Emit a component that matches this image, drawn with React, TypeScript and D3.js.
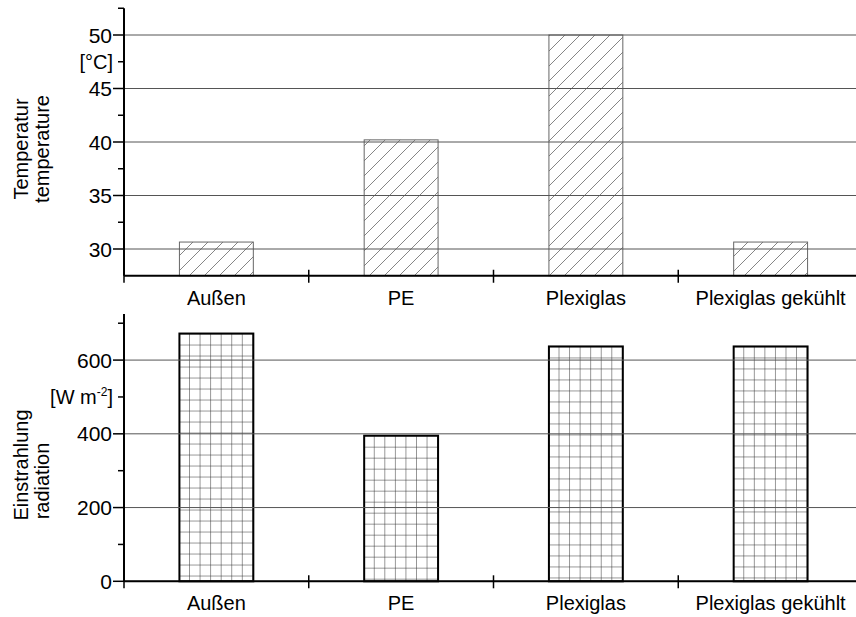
import React, { useRef, useEffect } from "react";
import * as d3 from "d3";

const categories = ["Außen", "PE", "Plexiglas", "Plexiglas gekühlt"];
const temperature = [30.65, 40.2, 50.0, 30.65];
const radiation = [672, 395, 637, 637];
const tempTicks = [30, 35, 40, 45, 50];
const tempMinor = [27.5, 32.5, 37.5, 42.5, 47.5, 52.5];
const radTicks = [0, 200, 400, 600];
const radMinor = [100, 300, 500, 700];

const FONT = "'Liberation Sans', Arial, sans-serif";

const App = () => {
  const svgRef = useRef<SVGSVGElement>(null);

  const width = 856;
  const height = 617;
  const left = 124;
  const right = 863;
  const fs = 20;
  const tfs = 21;

  useEffect(() => {
    const svg = d3.select(svgRef.current);
    svg.selectAll("*").remove();
    svg.attr("width", width).attr("height", height);

    const x = d3.scaleBand<string>().domain(categories).range([left, right]).padding(0);
    const bw = x.bandwidth() * 0.4;
    const barX = (c: string) => (x(c) as number) + x.bandwidth() * 0.3;
    const boundaries = [...categories.map(c => x(c) as number), right];

    const defs = svg.append("defs");

    // diagonal hatch for temperature
    const hatch = defs.append("pattern")
      .attr("id", "hatch")
      .attr("patternUnits", "userSpaceOnUse")
      .attr("width", 15)
      .attr("height", 15);
    hatch.append("path")
      .attr("d", "M0,15 L15,0 M-4,4 L4,-4 M11,19 L19,11")
      .attr("stroke", "#777")
      .attr("stroke-width", 0.9)
      .attr("fill", "none");

    const panel = (
      values: number[],
      domain: [number, number],
      range: [number, number],
      major: number[],
      minor: number[],
      kind: "hatch" | "grid",
      unit: string,
      unitValue: number,
      title: string[],
      titleCenter: number[]
    ) => {
      const y = d3.scaleLinear().domain(domain).range(range);
      const g = svg.append("g");
      const bottom = range[0];

      // bars
      values.forEach((v, i) => {
        const c = categories[i];
        const bx = barX(c);
        const top = y(v);
        let fill = "url(#hatch)";
        if (kind === "grid") {
          const id = `grid${i}`;
          const p = defs.append("pattern")
            .attr("id", id)
            .attr("patternUnits", "userSpaceOnUse")
            .attr("x", bx)
            .attr("y", top + 1)
            .attr("width", bw / 7)
            .attr("height", 11);
          p.append("path")
            .attr("d", `M${bw / 7},0 V11 M0,11 H${bw / 7}`)
            .attr("stroke", "#333")
            .attr("stroke-width", 1)
            .attr("fill", "none");
          fill = `url(#${id})`;
        }
        g.append("rect")
          .attr("x", bx)
          .attr("y", top)
          .attr("width", bw)
          .attr("height", bottom - top)
          .attr("fill", "white");
        g.append("rect")
          .attr("x", bx)
          .attr("y", top)
          .attr("width", bw)
          .attr("height", bottom - top)
          .attr("fill", fill)
          .attr("stroke", kind === "grid" ? "#000" : "#666")
          .attr("stroke-width", kind === "grid" ? 2 : 1);
      });

      // grid lines
      g.selectAll(".gl")
        .data(major)
        .join("line")
        .attr("x1", left)
        .attr("x2", right)
        .attr("y1", d => y(d))
        .attr("y2", d => y(d))
        .attr("stroke", "#555")
        .attr("stroke-width", 1);

      // y axis
      g.append("line")
        .attr("x1", left).attr("x2", left)
        .attr("y1", y(domain[1])).attr("y2", bottom)
        .attr("stroke", "#000").attr("stroke-width", 2);
      g.selectAll(".maj")
        .data(major)
        .join("line")
        .attr("x1", left - 11).attr("x2", left)
        .attr("y1", d => y(d)).attr("y2", d => y(d))
        .attr("stroke", "#000").attr("stroke-width", 1.5);
      g.selectAll(".min")
        .data(minor.filter(m => m > domain[0]))
        .join("line")
        .attr("x1", left - 6).attr("x2", left)
        .attr("y1", d => y(d)).attr("y2", d => y(d))
        .attr("stroke", "#000").attr("stroke-width", 1.5);
      g.selectAll(".lbl")
        .data(major)
        .join("text")
        .attr("x", left - 12)
        .attr("y", d => y(d) + tfs * 0.36)
        .attr("text-anchor", "end")
        .attr("font-family", FONT)
        .attr("font-size", tfs)
        .text(d => d);

      // unit label
      const ut = g.append("text")
        .attr("x", left - 11)
        .attr("y", y(unitValue) + fs * 0.36)
        .attr("text-anchor", "end")
        .attr("font-family", FONT)
        .attr("font-size", fs);
      if (unit === "W") {
        ut.append("tspan").text("[W m");
        ut.append("tspan").attr("font-size", fs * 0.6).attr("dy", -fs * 0.4).text("-2");
        ut.append("tspan").attr("dy", fs * 0.4).text("]");
      } else {
        ut.text(unit);
      }

      // axis title
      title.forEach((t, i) => {
        g.append("text")
          .attr("transform", `translate(${28 + i * 21},${titleCenter[i]}) rotate(-90)`)
          .attr("text-anchor", "middle")
          .attr("font-family", FONT)
          .attr("font-size", fs)
          .text(t);
      });

      // x axis
      g.append("line")
        .attr("x1", left).attr("x2", right)
        .attr("y1", bottom).attr("y2", bottom)
        .attr("stroke", "#000").attr("stroke-width", 2);
      g.selectAll(".xt")
        .data(boundaries)
        .join("line")
        .attr("x1", d => d).attr("x2", d => d)
        .attr("y1", bottom - 6).attr("y2", bottom + 7)
        .attr("stroke", "#000").attr("stroke-width", 1.5);
      g.selectAll(".xl")
        .data(categories)
        .join("text")
        .attr("x", d => (x(d) as number) + x.bandwidth() / 2)
        .attr("y", bottom + 29)
        .attr("text-anchor", "middle")
        .attr("font-family", FONT)
        .attr("font-size", fs)
        .text(d => d);
    };

    panel(temperature, [27.5, 52.5], [275.75, 8.25], tempTicks, tempMinor, "hatch",
      "[°C]", 47.5, ["Temperatur", "temperature"], [149, 149]);
    panel(radiation, [0, 725], [581.3, 314], radTicks, radMinor, "grid",
      "W", 500, ["Einstrahlung", "radiation"], [465, 481]);
  }, []);

  return (
    <svg ref={svgRef} style={{ position: "absolute", left: 0, top: 0, background: "white" }}></svg>
  );
};

export default App;
